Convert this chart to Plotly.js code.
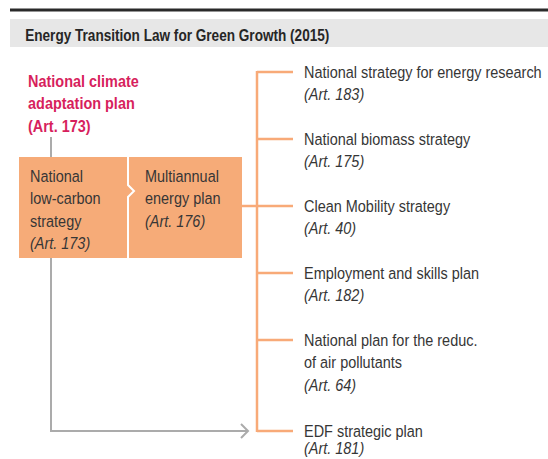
<!DOCTYPE html>
<html><head><meta charset="utf-8">
<script src="https://cdn.plot.ly/plotly-3.0.1.min.js"></script>
<style>html,body{margin:0;padding:0;background:#fff}</style>
</head><body><div id="chart" style="width:548px;height:459px"></div>
<script>
const chartTitle = "Energy Transition Law for Green Growth (2015)";
const adaptationLines = ["National climate", "adaptation plan", "(Art. 173)"];
const lowCarbonLines = ["National", "low-carbon", "strategy"];
const lowCarbonArt = "(Art. 173)";
const multiannualLines = ["Multiannual", "energy plan"];
const multiannualArt = "(Art. 176)";
const planNames = [
  ["National strategy for energy research"],
  ["National biomass strategy"],
  ["Clean Mobility strategy"],
  ["Employment and skills plan"],
  ["National plan for the reduc.", "of air pollutants"],
  ["EDF strategic plan"]
];
const planArticles = ["(Art. 183)", "(Art. 175)", "(Art. 40)", "(Art. 182)", "(Art. 64)", "(Art. 181)"];

const FONT = '"Liberation Sans", Arial, sans-serif';
const TXT = '#363636';
const ORANGE = '#f8aa78';
const BOXFILL = '#f6ab78';
const RED = '#d71f5d';
const GRAY = '#ababab';
const LINE_H = 22.5;
const NARROW = 0.85;

const shapes = [];
const ann = [];
function line(x0,y0,x1,y1,color,w){shapes.push({type:'line',xref:'x',yref:'y',x0,y0,x1,y1,line:{color,width:w}});}
function text(x,y,t,opts={}){
  ann.push(Object.assign({x,y,xref:'x',yref:'y',text:t,showarrow:false,xanchor:'left',yanchor:'middle',
    font:{family:FONT,size:17,color:TXT}},opts));
}

// header
line(10,10,548,10,'#2a2a2a',3);
shapes.push({type:'rect',xref:'x',yref:'y',x0:10,x1:548,y0:19,y1:47,fillcolor:'#e7e7e7',line:{width:0},layer:'below'});
text(23,35,'<b>'+chartTitle+'</b>',{font:{family:FONT,size:16,color:'#262626'}});

// adaptation plan
adaptationLines.forEach((t,i)=>text(26,81+i*LINE_H,'<b>'+t+'</b>',{font:{family:FONT,size:17,color:RED}}));

// gray connectors
line(51,137,51,157,GRAY,2);
shapes.push({type:'path',xref:'x',yref:'y',path:'M51,258 L51,431 L247,431',line:{color:GRAY,width:2}});
shapes.push({type:'path',xref:'x',yref:'y',path:'M241,424 L248,431 L241,438',line:{color:GRAY,width:2}});

// box
shapes.push({type:'rect',xref:'x',yref:'y',x0:19,x1:242,y0:157,y1:258,fillcolor:BOXFILL,line:{width:0}});
shapes.push({type:'path',xref:'x',yref:'y',path:'M128,157 L128,185 L134,191 L128,197 L128,258',line:{color:'#ffffff',width:2}});
lowCarbonLines.forEach((t,i)=>text(28,176+i*LINE_H,t));
text(28,176+3*LINE_H,'<i>'+lowCarbonArt+'</i>');
multiannualLines.forEach((t,i)=>text(143,176+i*LINE_H,t));
text(143,176+2*LINE_H,'<i>'+multiannualArt+'</i>');

// orange tree
const rowY = [72,139,206,273,340,431];
line(242,206,257,206,ORANGE,2.5);
line(257,rowY[0]-1,257,rowY[rowY.length-1]+1,ORANGE,2.5);
planNames.forEach((lines,i)=>{
  const y = rowY[i];
  line(257,y,293,y,ORANGE,2.5);
  lines.forEach((t,j)=>text(302,y+j*LINE_H,t));
  // keep the last article label inside the frame
  const ay = Math.min(y+lines.length*LINE_H, 448);
  text(302,ay,'<i>'+planArticles[i]+'</i>');
});

Plotly.newPlot('chart',[],{
  width:548,height:459,margin:{l:0,r:0,t:0,b:0},
  paper_bgcolor:'#fff',plot_bgcolor:'#fff',
  xaxis:{range:[0,548],visible:false,fixedrange:true},
  yaxis:{range:[459,0],visible:false,fixedrange:true},
  shapes,annotations:ann,showlegend:false
},{staticPlot:true}).then(()=>{
  // condensed look: compress each label horizontally about its left edge
  document.querySelectorAll('#chart .annotation-text').forEach(el=>{
    const bb = el.getBBox();
    el.setAttribute('transform','translate('+bb.x+',0) scale('+NARROW+',1) translate('+(-bb.x)+',0)');
  });
});
</script></body></html>
